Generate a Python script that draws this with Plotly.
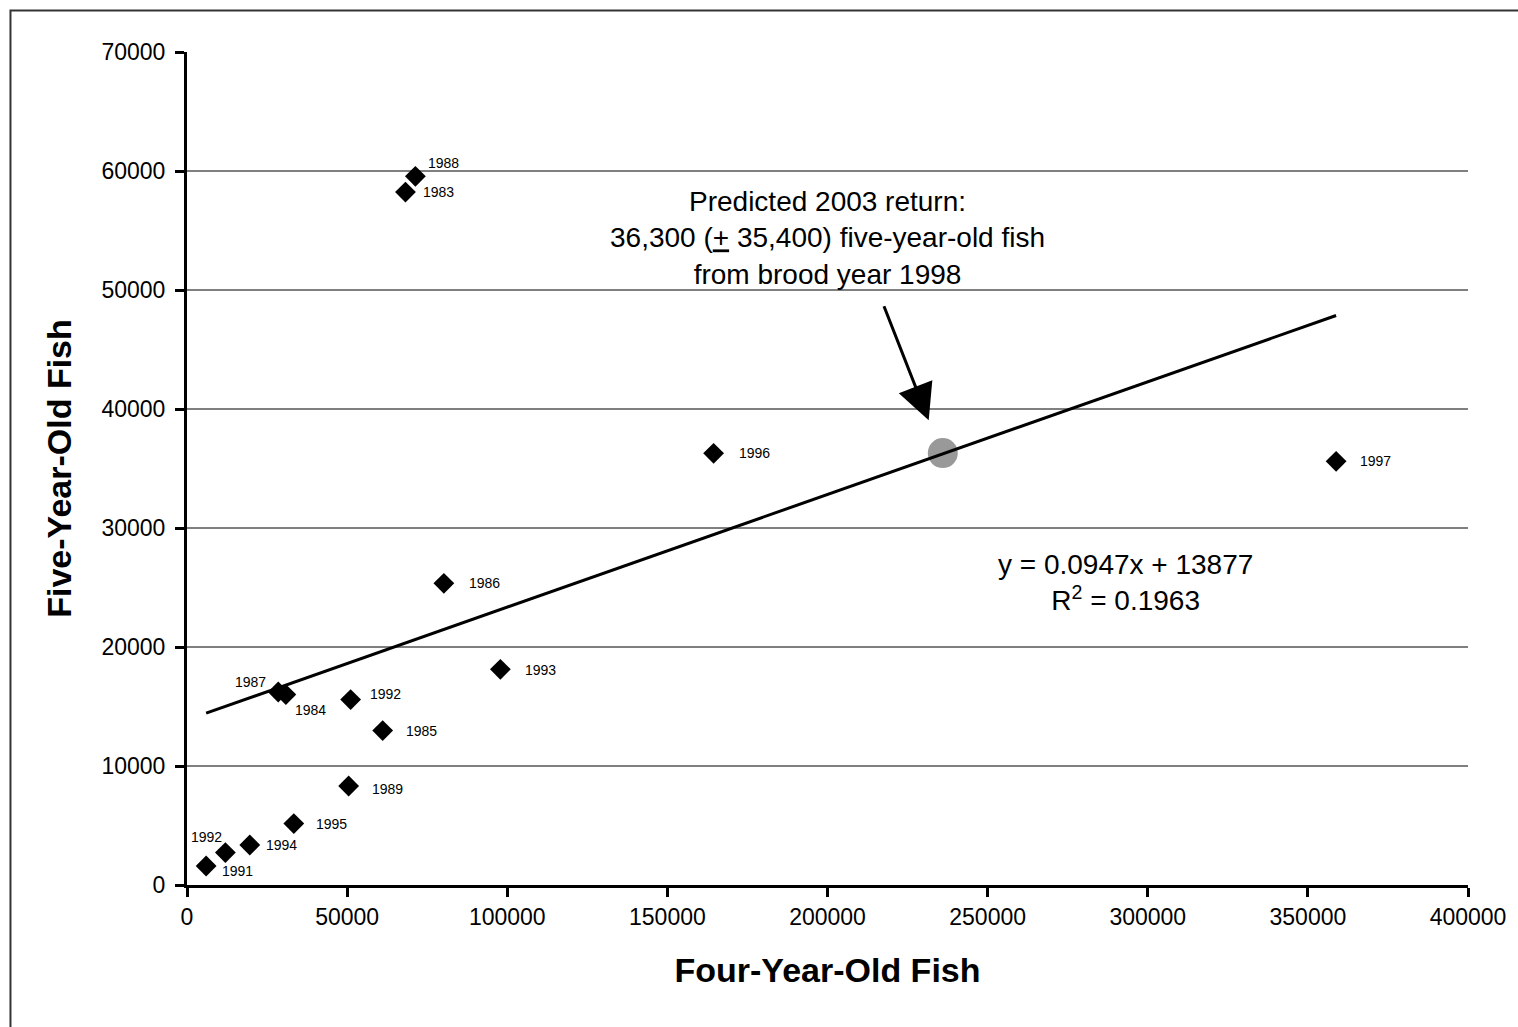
import plotly.graph_objects as go

# ---- data ----
years = ["1991", "1992", "1994", "1995", "1989", "1985", "1992", "1984", "1987",
         "1988", "1983", "1997", "1996", "1986", "1993"]
four_year_old = [5977, 11984, 19602, 33352, 50476, 61098, 51096, 30874, 28490,
                 71317, 68220, 358815, 164435, 80205, 97856]
five_year_old = [1597, 2723, 3361, 5159, 8319, 12974, 15579, 15999, 16218,
                 59552, 58233, 35604, 36276, 25352, 18125]

pred_x = [236000]
pred_y = [36300]

slope = 0.0947
intercept = 13877
r_squared = 0.1963

x_ticks = [0, 50000, 100000, 150000, 200000, 250000, 300000, 350000, 400000]
y_ticks = [0, 10000, 20000, 30000, 40000, 50000, 60000, 70000]

# ---- style: label offsets (pixels) per point, same order as data ----
label_style = [
    ("left", 14, -5), ("right", -1, 16), ("left", 14, 0), ("left", 20, 0),
    ("left", 21, -3), ("left", 21, 0), ("left", 17, 6), ("left", 7, -15),
    ("right", -10, 10), ("left", 11, 13), ("left", 16, 0), ("left", 22, 0),
    ("left", 23, 0), ("left", 23, 0), ("left", 23, -1),
]

FONT = "Arial, Liberation Sans, sans-serif"

fig = go.Figure()

# predicted value (under the trend line)
fig.add_trace(go.Scatter(
    x=pred_x, y=pred_y, mode="markers",
    marker=dict(symbol="circle", size=30, color="#999999"),
    showlegend=False, hoverinfo="skip"))

# trend line from fitted equation over data range
x_min, x_max = min(four_year_old), max(four_year_old)
fig.add_trace(go.Scatter(
    x=[x_min, x_max], y=[slope * x_min + intercept, slope * x_max + intercept],
    mode="lines", line=dict(color="black", width=3),
    showlegend=False, hoverinfo="skip"))

# observations
fig.add_trace(go.Scatter(
    x=four_year_old, y=five_year_old, mode="markers",
    marker=dict(symbol="diamond", size=16, color="black"),
    text=years, showlegend=False))

annotations = []
for yr, xv, yv, (anc, dx, dy) in zip(years, four_year_old, five_year_old, label_style):
    annotations.append(dict(
        x=xv, y=yv, xref="x", yref="y", text=yr, showarrow=False,
        xanchor=anc, yanchor="middle", xshift=dx, yshift=dy,
        font=dict(family=FONT, size=14, color="black")))

annotations.append(dict(
    x=200000, y=54400, xref="x", yref="y", showarrow=False,
    text="Predicted 2003 return:<br>36,300 (<u>+</u> 35,400) five-year-old fish<br>from brood year 1998",
    font=dict(family=FONT, size=28, color="black"), align="center",
    xanchor="center", yanchor="middle"))

annotations.append(dict(
    x=231600, y=39050, xref="x", yref="y", ax=216700, ay=49280,
    axref="x", ayref="y", showarrow=True, text=" ",
    arrowhead=2, arrowsize=2.4, arrowwidth=3, arrowcolor="black"))

annotations.append(dict(
    x=293000, y=25400, xref="x", yref="y", showarrow=False,
    text=f"y = {slope}x + {intercept}<br>R<sup>2</sup> = {r_squared}",
    font=dict(family=FONT, size=28, color="black"), align="center",
    xanchor="center", yanchor="middle"))

shapes = []
for gv in y_ticks[1:-1]:
    shapes.append(dict(type="line", xref="paper", x0=0, x1=1, yref="y", y0=gv, y1=gv,
                       line=dict(color="black", width=1), layer="below"))
# outer chart frame (cropped on right and bottom)
shapes.append(dict(type="rect", xref="paper", yref="paper",
                   x0=-0.1378, x1=1.3, y0=-0.4, y1=1.0497,
                   line=dict(color="#333333", width=2), layer="below"))

fig.update_layout(
    width=1518, height=1027,
    margin=dict(l=187, r=39, t=52, b=142),
    paper_bgcolor="white", plot_bgcolor="white",
    annotations=annotations, shapes=shapes,
    font=dict(family=FONT, color="black"),
)

fig.update_xaxes(
    range=[0, 400000], tickvals=x_ticks, ticktext=[str(v) for v in x_ticks],
    showgrid=False, zeroline=False, showline=True, linecolor="black", linewidth=3,
    ticks="outside", ticklen=9, tickwidth=3, tickcolor="black",
    tickfont=dict(family=FONT, size=23, color="black"),
    title=dict(text="<b>Four-Year-Old Fish</b>", standoff=30,
               font=dict(family=FONT, size=34, color="black")))

fig.update_yaxes(
    range=[0, 70000], tickvals=y_ticks, ticktext=[str(v) for v in y_ticks],
    showgrid=False, zeroline=False, showline=True, linecolor="black", linewidth=3,
    ticks="outside", ticklen=9, tickwidth=3, tickcolor="black", ticklabelstandoff=5,
    tickfont=dict(family=FONT, size=23, color="black"),
    title=dict(text="<b>Five-Year-Old Fish</b>", standoff=20,
               font=dict(family=FONT, size=34, color="black")))

fig.write_html(
    "out.html",
    config={"displayModeBar": False},
    post_script="document.body.style.margin='0';document.body.style.overflow='hidden';",
)
